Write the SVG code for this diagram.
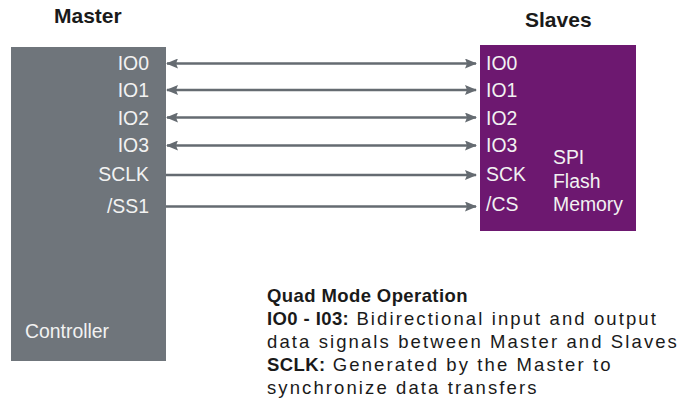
<svg xmlns="http://www.w3.org/2000/svg" width="696" height="400" viewBox="0 0 696 400">
  <style>
    .title { font-family: "Liberation Sans", Arial, sans-serif; font-weight: bold; font-size: 21px; fill: #1a1a1a; }
    .lbl { font-family: "Liberation Sans", Arial, sans-serif; font-size: 19.4px; fill: #f2f2f2; }
    .wire { stroke: #656b71; stroke-width: 2.5; fill: none; }
    .note { font-family: "Liberation Sans", Arial, sans-serif; font-size: 18.5px; fill: #1a1a1a; letter-spacing: 2.1px; }
    .note-b { font-weight: bold; letter-spacing: 0.4px; }
  </style>
  <defs>
    <marker id="arrowEnd" viewBox="0 0 12 10" refX="11" refY="5" markerWidth="12" markerHeight="10" markerUnits="userSpaceOnUse" orient="auto">
      <path d="M0,0 L12,5 L0,10 L2,5 Z" fill="#656b71"/>
    </marker>
    <marker id="arrowStart" viewBox="0 0 12 10" refX="1" refY="5" markerWidth="12" markerHeight="10" markerUnits="userSpaceOnUse" orient="auto">
      <path d="M12,0 L0,5 L12,10 L10,5 Z" fill="#656b71"/>
    </marker>
  </defs>

  <rect width="696" height="400" fill="#ffffff"/>

  <text class="title" x="54" y="23">Master</text>
  <text class="title" x="525" y="27">Slaves</text>

  <g id="controller">
    <rect x="11" y="47" width="155" height="314" fill="#6f757b"/>
    <g class="lbl" text-anchor="end">
      <text x="149" y="70">IO0</text>
      <text x="149" y="97">IO1</text>
      <text x="149" y="124.5">IO2</text>
      <text x="149" y="152">IO3</text>
      <text x="149" y="181">SCLK</text>
      <text x="149" y="212.5">/SS1</text>
    </g>
    <text class="lbl" x="25" y="338">Controller</text>
  </g>

  <g id="flash">
    <rect x="480" y="45" width="156" height="186" fill="#6d1870"/>
    <g class="lbl">
      <text x="486" y="70">IO0</text>
      <text x="486" y="97">IO1</text>
      <text x="486" y="124.5">IO2</text>
      <text x="486" y="152">IO3</text>
      <text x="486" y="181">SCK</text>
      <text x="486" y="211">/CS</text>
      <text x="553" y="164">SPI</text>
      <text x="553" y="188">Flash</text>
      <text x="553" y="211">Memory</text>
    </g>
  </g>

  <g id="connectors">
    <line class="wire" x1="167" y1="63.5" x2="476" y2="63.5" marker-start="url(#arrowStart)" marker-end="url(#arrowEnd)"/>
    <line class="wire" x1="167" y1="90" x2="476" y2="90" marker-start="url(#arrowStart)" marker-end="url(#arrowEnd)"/>
    <line class="wire" x1="167" y1="117.5" x2="476" y2="117.5" marker-start="url(#arrowStart)" marker-end="url(#arrowEnd)"/>
    <line class="wire" x1="167" y1="145.5" x2="476" y2="145.5" marker-start="url(#arrowStart)" marker-end="url(#arrowEnd)"/>
    <line class="wire" x1="166" y1="175" x2="476" y2="175" marker-end="url(#arrowEnd)"/>
    <line class="wire" x1="166" y1="206.5" x2="476" y2="206.5" marker-end="url(#arrowEnd)"/>
  </g>

  <g id="legend" class="note">
    <text x="267" y="301.5" class="note-b">Quad Mode Operation</text>
    <text x="267" y="324.5"><tspan class="note-b">IO0 - I03:</tspan> Bidirectional input and output</text>
    <text x="267" y="347.5">data signals between Master and Slaves</text>
    <text x="267" y="370.5"><tspan class="note-b">SCLK:</tspan> Generated by the Master to</text>
    <text x="267" y="393.5">synchronize data transfers</text>
  </g>
</svg>
